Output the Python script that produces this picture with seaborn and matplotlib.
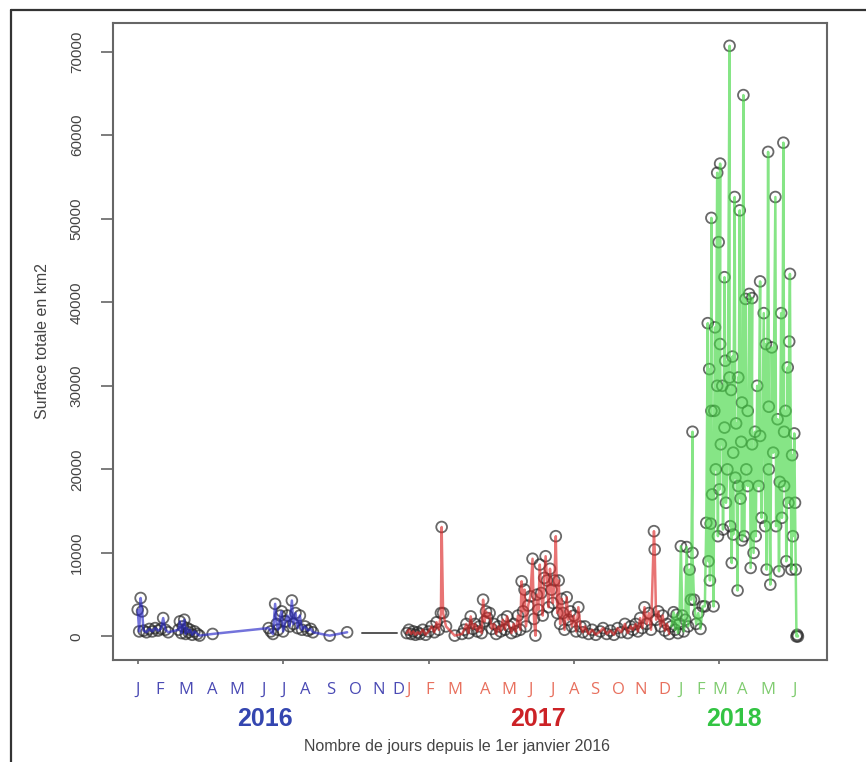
import matplotlib
matplotlib.use("Agg")
import matplotlib.pyplot as plt
import matplotlib.transforms as mtransforms
import numpy as np
import pandas as pd
import seaborn as sns

# jours depuis le 1er janvier 2016 / surface totale (km2)
days_2016 = [0, 2, 4, 6, 8, 12, 16, 20, 24, 28, 32, 35, 38, 42,
             56, 58, 60, 62, 64, 66, 68, 70, 72, 75, 78, 82, 85, 103,
             180, 183, 186, 189, 191, 193, 196, 198, 200, 203, 206, 209, 212,
             214, 217, 220, 223, 226, 230, 234, 238, 241, 264, 288]
surf_2016 = [3200, 600, 4600, 3000, 700, 500, 900, 600, 1000, 700, 900, 2200, 800, 500,
             800, 1800, 400, 1200, 2000, 300, 1000, 500, 800, 200, 600, 300, 100, 300,
             1000, 600, 300, 3900, 1500, 800, 2500, 3000, 600, 1800, 2500, 1200, 4300,
             1500, 2800, 1000, 2500, 800, 1200, 700, 900, 500, 100, 500]

days_gap = [309, 357]
surf_gap = [400, 400]

days_2017 = [370, 373, 376, 379, 382, 385, 388, 392, 396, 400, 404, 408, 411, 414, 417, 418,
             420, 424, 436, 446, 449, 452, 455, 458, 461, 464, 467, 470, 473, 475, 477, 479,
             481, 484, 487, 490, 493, 496, 499, 502, 505, 508, 511, 514, 517, 520, 523, 526,
             528, 530, 532, 534, 537, 540, 543, 545, 547, 549, 551, 553, 555, 557, 559, 561,
             563, 565, 567, 569, 571, 573, 575, 577, 579, 581, 583, 585, 587, 590, 592, 595,
             597, 600, 603, 606, 609, 612, 615, 620, 625, 630, 636, 640, 645, 650, 655, 660,
             665, 670, 674, 678, 681, 685, 688, 691, 694, 697, 700, 703, 706, 710, 711, 713,
             716, 719, 722, 725, 728, 731]
surf_2017 = [400, 800, 300, 600, 200, 500, 300, 800, 200, 600, 1200, 500, 1700, 800, 2800, 13100,
             2800, 1200, 100, 300, 800, 1500, 400, 2400, 900, 1500, 600, 1200, 400, 4400, 1800, 3000,
             2200, 2800, 900, 1500, 300, 1200, 600, 2000, 800, 2400, 1200, 400, 1500, 600, 2500, 800,
             6600, 3000, 5600, 1200, 3700, 4800, 9300, 2100, 100, 5000, 3200, 8600, 5200, 2500, 7000, 9600,
             6700, 3500, 8100, 5600, 4000, 6700, 12000, 2800, 6700, 1500, 4500, 2800, 800, 4700, 2000, 3000,
             1200, 2500, 600, 3500, 1200, 500, 1200, 300, 800, 200, 600, 1000, 300, 700, 200, 1000,
             500, 1500, 400, 1200, 800, 1500, 600, 2200, 1000, 3500, 1500, 2800, 800, 12600, 10400, 2000,
             3000, 1200, 2500, 700, 1500, 300]

days_2018 = [734, 737, 739, 741, 743, 745, 747, 749, 751, 753, 755, 757, 759, 761, 763, 763,
             765, 768, 771, 774, 777, 780, 782, 784, 785, 786, 787, 788, 789, 789, 790, 792,
             793, 794, 795, 797, 797, 798, 799, 800, 801, 801, 802, 804, 805, 807, 807, 808,
             809, 811, 814, 814, 815, 816, 817, 818, 819, 819, 821, 822, 823, 825, 826, 826,
             828, 829, 830, 831, 831, 833, 834, 836, 837, 839, 839, 841, 843, 845, 845, 847,
             849, 850, 852, 854, 856, 856, 858, 861, 863, 864, 865, 867, 868, 868, 870, 872,
             874, 877, 878, 880, 882, 883, 885, 886, 888, 889, 889, 891, 892, 894, 895, 896,
             897, 899, 900, 901, 903, 904, 905, 906, 907, 908]
surf_2018 = [1200, 2900, 800, 2600, 400, 1500, 10800, 2500, 600, 2000, 10700, 1200, 8000, 4400, 24500, 10000,
             4400, 1500, 2800, 900, 3600, 3600, 13600, 37500, 9000, 32000, 6700, 13500, 50100, 27000, 17000, 3600,
             27000, 37000, 20000, 55500, 30000, 12000, 47200, 17600, 56600, 35000, 23000, 30000, 12800, 43000, 25000, 33000,
             16000, 20000, 70700, 31000, 13200, 29500, 8800, 33500, 12200, 22000, 52600, 19000, 25500, 5500, 31000, 18000,
             51000, 16500, 23300, 28000, 11500, 64800, 12000, 40400, 20000, 27000, 18000, 41000, 8200, 40500, 23000, 10000,
             24500, 12000, 30000, 18000, 42500, 24000, 14200, 38700, 13200, 35000, 8000, 58000, 27500, 20000, 6200, 34600,
             22000, 52600, 13200, 26000, 7800, 18500, 38700, 14200, 59100, 24500, 18000, 27000, 9000, 32200, 16000, 35300,
             43400, 8000, 21700, 12000, 24300, 16000, 8000, 0, 200, 0]

months_2016 = ["J", "F", "M", "A", "M", "J", "J", "A", "S", "O", "N", "D"]
months_2017 = ["J", "F", "M", "A", "M", "J", "J", "A", "S", "O", "N", "D"]
months_2018 = ["J", "F", "M", "A", "M", "J"]
years = ["2016", "2017", "2018"]

# positions of the pasted month letters (days)
month_x_2016 = [0, 30, 66, 103, 136, 173, 201, 231, 266, 299, 332, 359]
month_x_2017 = [373, 402, 436, 478, 511, 540, 570, 601, 628, 661, 692, 725]
month_x_2018 = [746, 774, 800, 831, 866, 904]
year_x = [175, 550, 820]

line_colors = {"2016": "#2828c8", "2017": "#dd2a2a", "2018": "#45d845"}
month_colors = {"2016": "#4a4ab4", "2017": "#e8705e", "2018": "#80cc70"}
year_colors = {"2016": "#3446b0", "2017": "#cc2226", "2018": "#33c443"}

df = pd.concat([
    pd.DataFrame({"jours": days_2016, "surface": surf_2016, "annee": "2016"}),
    pd.DataFrame({"jours": days_2017, "surface": surf_2017, "annee": "2017"}),
    pd.DataFrame({"jours": days_2018, "surface": surf_2018, "annee": "2018"}),
], ignore_index=True)

sns.set_style("ticks")
plt.rcParams["font.family"] = ["Liberation Sans", "DejaVu Sans"]

fig = plt.figure(figsize=(8.66, 7.62), dpi=100)
ax = fig.add_axes([113 / 866, 102 / 762, 714 / 866, 637 / 762])

sns.lineplot(data=df, x="jours", y="surface", hue="annee", palette=line_colors,
             estimator=None, sort=False, legend=False, linewidth=1.8, alpha=0.65, ax=ax)
sns.lineplot(x=days_gap, y=surf_gap, color="#555555", linewidth=1.4, ax=ax)
sns.scatterplot(data=df, x="jours", y="surface", marker="o", s=60,
                facecolors="none", edgecolors="#2a2a2a", linewidths=1.3, alpha=0.7, ax=ax)

ax.set_xlim(-34, 948)
ax.set_ylim(-2820, 73430)
ax.set_xticks([0, 200, 400, 600, 800])
ax.set_xticklabels([])
ax.set_yticks(np.arange(0, 70001, 10000))
ax.set_yticklabels([str(v) for v in range(0, 70001, 10000)], rotation=90, va="center",
                   fontsize=11, color="#444444")
ax.tick_params(axis="y", length=9, width=1.2, color="#666666", pad=12)
ax.tick_params(axis="x", length=3, width=1.2, color="#666666")
for sp in ax.spines.values():
    sp.set_color("#666666")
    sp.set_linewidth(1.5)
ax.set_xlabel("")
ax.set_ylabel("Surface totale en km2", fontsize=11.5, color="#444444", labelpad=14)

trans = mtransforms.blended_transform_factory(ax.transData, fig.transFigure)
for yr, labels, xs in [("2016", months_2016, month_x_2016),
                       ("2017", months_2017, month_x_2017),
                       ("2018", months_2018, month_x_2018)]:
    for lab, xv in zip(labels, xs):
        ax.text(xv, 1 - 690 / 762, lab, transform=trans, ha="center", va="center",
                fontsize=12, color=month_colors[yr], family=["Open Sans", "DejaVu Sans"])
for yr, xv in zip(years, year_x):
    ax.text(xv, 1 - 719 / 762, yr, transform=trans, ha="center", va="center",
            fontsize=18, fontweight="bold", color=year_colors[yr])

fig.text(457 / 866, 1 - 746 / 762, "Nombre de jours depuis le 1er janvier 2016",
         ha="center", va="center", fontsize=11.5, color="#444444")

# cadre extérieur de la capture
fig.add_artist(plt.Line2D([11 / 866, 1], [1 - 10 / 762, 1 - 10 / 762],
                          transform=fig.transFigure, color="#333333", linewidth=1.6))
fig.add_artist(plt.Line2D([11 / 866, 11 / 866], [0, 1 - 10 / 762],
                          transform=fig.transFigure, color="#333333", linewidth=1.6))

fig.savefig("out.png", dpi=100)
